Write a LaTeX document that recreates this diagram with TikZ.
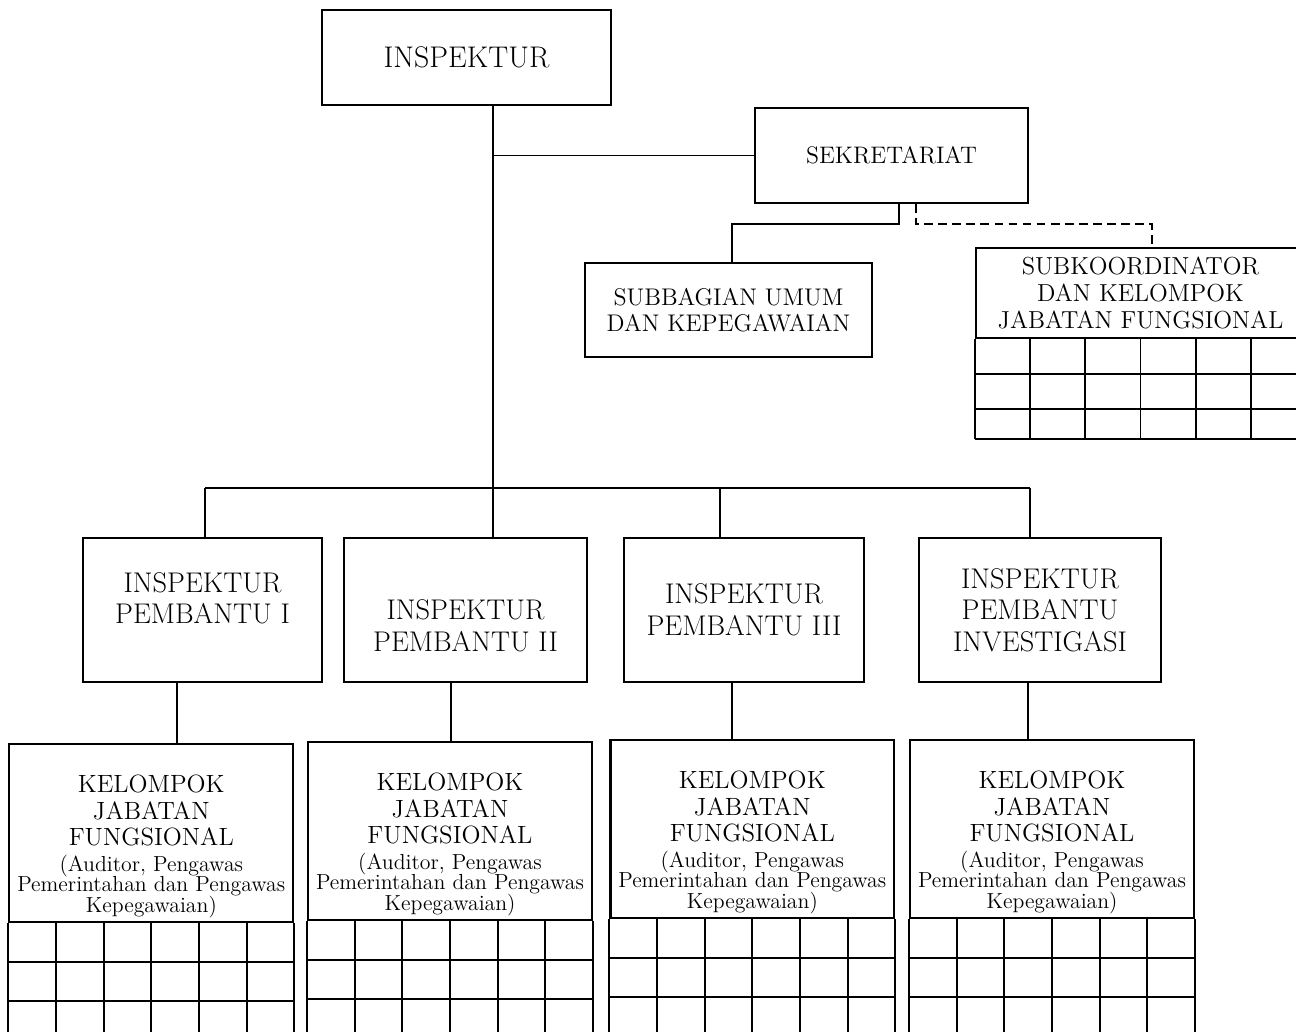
\documentclass[tikz,border=0pt]{standalone}
\usetikzlibrary{calc}

\begin{document}
\begin{tikzpicture}[x=0.02cm, y=-0.02cm,
		box/.style={draw, line width=1.3pt, align=center, inner sep=2pt},
		link/.style={line width=1pt},
		cell/.style={line width=1.1pt},
		head/.style={font=\fontsize{16.2}{18}\selectfont},
		kjfbig/.style={font=\fontsize{14.2}{15.3}\selectfont, text height=94pt},
	]
	\useasboundingbox (0,0) rectangle (1296,1032);
	\clip (0,0) rectangle (1296,1032);

	% pimpinan dan sekretariat
	\node[box, minimum width=5.78cm, minimum height=1.9cm, font=\fontsize{17}{20}\selectfont] (insp) at (466.5,57.5) {INSPEKTUR};
	\node[box, minimum width=5.46cm, minimum height=1.9cm, font=\fontsize{13.6}{16}\selectfont] (sekr) at (891.5,155.5) {SEKRETARIAT};
	\node[box, minimum width=5.74cm, minimum height=1.88cm, font=\fontsize{13.7}{14.5}\selectfont] (subumum) at (728.5,310) {SUBBAGIAN UMUM\\DAN KEPEGAWAIAN};
	\node[box, minimum width=6.58cm, minimum height=1.8cm, font=\fontsize{14}{15.6}\selectfont] (subkoord) at (1140.5,293) {SUBKOORDINATOR\\DAN KELOMPOK\\JABATAN FUNGSIONAL};

	% inspektur pembantu
	\node[box, head, minimum width=4.78cm, minimum height=2.88cm, text depth=13.6pt] (ip1) at (202.5,610) {INSPEKTUR\\PEMBANTU I};
	\node[box, head, minimum width=4.86cm, minimum height=2.88cm, text height=47pt] (ip2) at (465.5,610) {INSPEKTUR\\PEMBANTU II};
	\node[box, head, minimum width=4.80cm, minimum height=2.88cm] (ip3) at (744,610) {INSPEKTUR\\PEMBANTU III};
	\node[box, head, minimum width=4.84cm, minimum height=2.88cm] (ip4) at (1040,610) {INSPEKTUR\\PEMBANTU\\INVESTIGASI};

	% kelompok jabatan fungsional
	\node[box, kjfbig, minimum width=5.68cm, minimum height=3.56cm] (kjf1) at (151.3,833) {KELOMPOK\\JABATAN\\FUNGSIONAL\\[-1pt]{\fontsize{12.4}{12}\selectfont (Auditor, Pengawas}\\[-3.4pt]{\fontsize{12.4}{12}\selectfont Pemerintahan dan Pengawas}\\[-3.4pt]{\fontsize{12.4}{12}\selectfont Kepegawaian)}};
	\node[box, kjfbig, minimum width=5.67cm, minimum height=3.56cm] (kjf2) at (450,831) {KELOMPOK\\JABATAN\\FUNGSIONAL\\[-1pt]{\fontsize{12.4}{12}\selectfont (Auditor, Pengawas}\\[-3.4pt]{\fontsize{12.4}{12}\selectfont Pemerintahan dan Pengawas}\\[-3.4pt]{\fontsize{12.4}{12}\selectfont Kepegawaian)}};
	\node[box, kjfbig, minimum width=5.67cm, minimum height=3.56cm] (kjf3) at (752.3,829) {KELOMPOK\\JABATAN\\FUNGSIONAL\\[-1pt]{\fontsize{12.4}{12}\selectfont (Auditor, Pengawas}\\[-3.4pt]{\fontsize{12.4}{12}\selectfont Pemerintahan dan Pengawas}\\[-3.4pt]{\fontsize{12.4}{12}\selectfont Kepegawaian)}};
	\node[box, kjfbig, minimum width=5.68cm, minimum height=3.56cm] (kjf4) at (1052,829) {KELOMPOK\\JABATAN\\FUNGSIONAL\\[-1pt]{\fontsize{12.4}{12}\selectfont (Auditor, Pengawas}\\[-3.4pt]{\fontsize{12.4}{12}\selectfont Pemerintahan dan Pengawas}\\[-3.4pt]{\fontsize{12.4}{12}\selectfont Kepegawaian)}};

	% kotak isian di bawah kelompok
	\foreach \k in {kjf1,kjf2,kjf3,kjf4}{
		\foreach \i in {0,...,6}
			\draw[cell] ($(\k.south west)!\i/6!(\k.south east)$) -- ++(0,125);
		\foreach \j in {39,78,117}
			\draw[cell] ($(\k.south west)+(0,\j)$) -- ($(\k.south east)+(0,\j)$);
	}
	\foreach \i in {0,...,6}
		\draw[cell] ($(subkoord.south west)!\i/6!(subkoord.south east)$) -- ++(0,100);
	\foreach \j in {35,70,100}
		\draw[cell] ($(subkoord.south west)+(0,\j)$) -- ($(subkoord.south east)+(0,\j)$);

	% garis komando
	\coordinate (bus) at (493,488);
	\coordinate (sk) at (899,224);
	\coordinate (dk) at (916,224);
	\draw[link] (bus |- insp.south) -- (bus);
	\draw[link] (bus |- sekr.west) -- (sekr.west);
	\draw[link] (sk |- sekr.south) -- (sk) -| ([xshift=0.07cm]subumum.north);
	\draw[link, dashed, dash pattern=on 5pt off 3pt] (dk |- sekr.south) -- (dk) -| ([xshift=0.23cm]subkoord.north);
	\draw[link] ([xshift=0.05cm]ip1.north |- bus) -- ([xshift=-0.2cm]ip4.north |- bus);
	\draw[link] ([xshift=0.05cm]ip1.north |- bus) -- ([xshift=0.05cm]ip1.north);
	\draw[link] (bus) -- (bus |- ip2.north);
	\draw[link] ([xshift=-0.48cm]ip3.north |- bus) -- ([xshift=-0.48cm]ip3.north);
	\draw[link] ([xshift=-0.2cm]ip4.north |- bus) -- ([xshift=-0.2cm]ip4.north);

	% garis ke kelompok jabatan fungsional
	\draw[link] ([xshift=-0.51cm]ip1.south) -- ([xshift=-0.51cm]ip1.south |- kjf1.north);
	\draw[link] ([xshift=-0.29cm]ip2.south) -- ([xshift=-0.29cm]ip2.south |- kjf2.north);
	\draw[link] ([xshift=-0.24cm]ip3.south) -- ([xshift=-0.24cm]ip3.south |- kjf3.north);
	\draw[link] ([xshift=-0.24cm]ip4.south) -- ([xshift=-0.24cm]ip4.south |- kjf4.north);
\end{tikzpicture}
\end{document}
